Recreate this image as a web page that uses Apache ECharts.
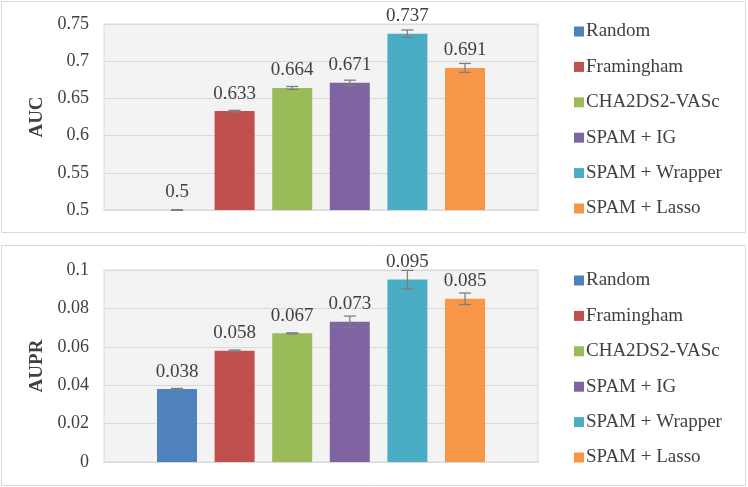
<!DOCTYPE html>
<html>
<head>
<meta charset="utf-8">
<script src="https://cdn.jsdelivr.net/npm/echarts@6/dist/echarts.min.js"></script>
<style>
html,body{margin:0;padding:0;background:#fff;}
#chart{width:748px;height:487px;}
</style>
</head>
<body>
<div id="chart"></div>
<script>
const methods = ['Random', 'Framingham', 'CHA2DS2-VASc', 'SPAM + IG', 'SPAM + Wrapper', 'SPAM + Lasso'];
const aucValues = [0.5, 0.633, 0.664, 0.671, 0.737, 0.691];
const aucErrors = [0.0005, 0.001, 0.002, 0.0035, 0.005, 0.006];
const auprValues = [0.038, 0.058, 0.067, 0.073, 0.095, 0.085];
const auprErrors = [0.0003, 0.0003, 0.0003, 0.003, 0.0048, 0.003];
const aucTicks = { min: 0.5, max: 0.75, interval: 0.05 };
const auprTicks = { min: 0, max: 0.1, interval: 0.02 };

const colors = ['#4f81bd', '#c0504d', '#9bbb59', '#8064a2', '#4bacc6', '#f79646'];
const FONT = "Liberation Serif";
const TEXT = '#404040';
const BAR_W = 40, GAP = 0.44;

function barSeries(gridIdx, values) {
  return methods.map((m, i) => ({
    name: m,
    type: 'bar',
    xAxisIndex: gridIdx,
    yAxisIndex: gridIdx,
    barWidth: BAR_W,
    barGap: (GAP * 100) + '%',
    itemStyle: { color: colors[i] },
    label: {
      show: true, position: 'top', distance: 8,
      fontFamily: FONT, fontSize: 19, color: TEXT,
      formatter: p => String(p.value)
    },
    data: [values[i]],
    z: 2
  }));
}

function errSeries(gridIdx, values, errs) {
  return {
    type: 'custom',
    xAxisIndex: gridIdx,
    yAxisIndex: gridIdx,
    z: 3,
    silent: true,
    data: values.map((v, i) => [0, v, errs[i], i]),
    renderItem: function (params, api) {
      const idx = api.value(3);
      const v = api.value(1), e = api.value(2);
      const off = (idx - (methods.length - 1) / 2) * BAR_W * (1 + GAP);
      const hi = api.coord([0, v + e]);
      const lo = api.coord([0, v - e]);
      const x = hi[0] + off;
      const style = { stroke: '#7f7f7f', lineWidth: 1.3 };
      return {
        type: 'group',
        children: [
          { type: 'line', shape: { x1: x, y1: hi[1], x2: x, y2: lo[1] }, style },
          { type: 'line', shape: { x1: x - 6, y1: hi[1], x2: x + 6, y2: hi[1] }, style },
          { type: 'line', shape: { x1: x - 6, y1: lo[1], x2: x + 6, y2: lo[1] }, style }
        ]
      };
    }
  };
}

function yAxis(gridIdx, ticks, name) {
  return {
    gridIndex: gridIdx,
    type: 'value',
    min: ticks.min, max: ticks.max, interval: ticks.interval,
    name: name,
    nameLocation: 'middle',
    nameRotate: 90,
    nameGap: 52,
    nameTextStyle: { fontFamily: FONT, fontSize: 19, fontWeight: 'bold', color: TEXT },
    axisLine: { show: false },
    axisTick: { show: false },
    axisLabel: { fontFamily: FONT, fontSize: 18, color: TEXT, margin: 15 },
    splitLine: { lineStyle: { color: '#d9d9d9', width: 1 } }
  };
}

function xAxis(gridIdx) {
  return {
    gridIndex: gridIdx,
    type: 'category',
    data: [''],
    axisLine: { lineStyle: { color: '#d9d9d9' } },
    axisTick: { show: false },
    axisLabel: { show: false }
  };
}

function legend(top) {
  return {
    orient: 'vertical',
    left: 569,
    top: top,
    itemWidth: 10,
    itemHeight: 10,
    itemGap: 16.4,
    icon: 'rect',
    textStyle: { fontFamily: FONT, fontSize: 19, color: TEXT, padding: [0, 0, 0, -3] },
    data: methods
  };
}

const chart = echarts.init(document.getElementById('chart'), null, { renderer: 'canvas' });
chart.setOption({
  animation: false,
  backgroundColor: '#ffffff',
  graphic: [
    { type: 'rect', shape: { x: 1.5, y: 1.5, width: 744, height: 231 }, style: { fill: 'none', stroke: '#d9d9d9', lineWidth: 1 }, z: -10 },
    { type: 'rect', shape: { x: 1.5, y: 245.5, width: 744, height: 240 }, style: { fill: 'none', stroke: '#d9d9d9', lineWidth: 1 }, z: -10 }
  ],
  grid: [
    { left: 104, right: 210, top: 24, height: 186, show: true, backgroundColor: '#f3f3f3', borderColor: '#d9d9d9', borderWidth: 1 },
    { left: 104, right: 210, top: 270, height: 192, show: true, backgroundColor: '#f3f3f3', borderColor: '#d9d9d9', borderWidth: 1 }
  ],
  legend: [legend(17), legend(266)],
  xAxis: [xAxis(0), xAxis(1)],
  yAxis: [yAxis(0, aucTicks, 'AUC'), yAxis(1, auprTicks, 'AUPR')],
  series: [
    ...barSeries(0, aucValues),
    ...barSeries(1, auprValues),
    errSeries(0, aucValues, aucErrors),
    errSeries(1, auprValues, auprErrors)
  ]
});
</script>
</body>
</html>
